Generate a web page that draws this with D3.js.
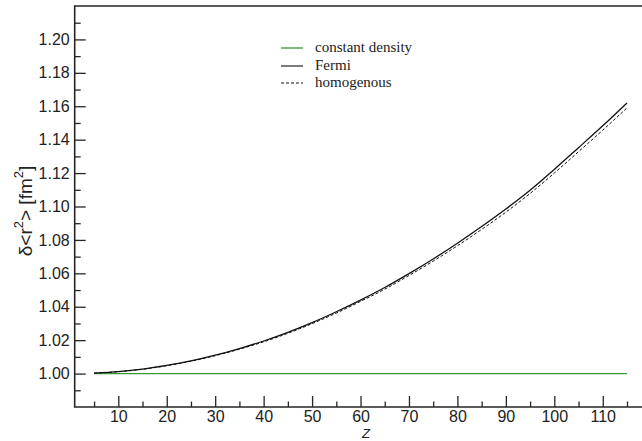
<!DOCTYPE html>
<html>
<head>
<meta charset="utf-8">
<script src="https://cdn.jsdelivr.net/npm/d3@7"></script>
<style>
  body { margin: 0; background: #fff; }
  svg { display: block; }
</style>
</head>
<body>
<div id="chart"></div>
<script>
// values
var zValues = [5, 10, 15, 20, 25, 30, 35, 40, 45, 50, 55, 60, 65, 70, 75, 80, 85, 90, 95, 100, 105, 110, 115];
var fermi = [1.0003, 1.0012, 1.0027, 1.0049, 1.0076, 1.0110, 1.0150, 1.0195, 1.0247, 1.0305, 1.0370, 1.0440,
  1.0515, 1.0598, 1.0686, 1.0780, 1.0880, 1.0985, 1.1097, 1.1222, 1.1352, 1.1483, 1.1620];
var homogenous = [1.0003, 1.0011, 1.0026, 1.0047, 1.0074, 1.0107, 1.0146, 1.0190, 1.0241, 1.0299, 1.0362, 1.0432,
  1.0505, 1.0587, 1.0673, 1.0765, 1.0863, 1.0966, 1.1078, 1.1200, 1.1328, 1.1457, 1.1590];
var constantDensity = [1.0, 1.0];
var constantZ = [5, 115];

var xMajorTicks = [10, 20, 30, 40, 50, 60, 70, 80, 90, 100, 110];
var xMinorTicks = [5, 15, 25, 35, 45, 55, 65, 75, 85, 95, 105, 115];
var yMajorTicks = [1.00, 1.02, 1.04, 1.06, 1.08, 1.10, 1.12, 1.14, 1.16, 1.18, 1.20];
var yMinorTicks = [0.99, 1.01, 1.03, 1.05, 1.07, 1.09, 1.11, 1.13, 1.15, 1.17, 1.19, 1.21];

var legendLabels = ["constant density", "Fermi", "homogenous"];

var svgWidth = 642;
var svgHeight = 441;

var svg = d3.select("#chart")
  .append("svg")
  .attr("width", svgWidth)
  .attr("height", svgHeight);

var x = d3.scaleLinear()
  .domain([1, 120])
  .range([74.7, 651.2]);

var y = d3.scaleLinear()
  .domain([0.98, 1.22])
  .range([407, 6]);

var axisColor = "#262626";

// ticks point into the plot
var bottomAxis = d3.axisBottom(x).tickValues(xMajorTicks).tickSizeInner(-11).tickSizeOuter(0)
  .tickPadding(4).tickFormat(d3.format("d"));
var bottomMinor = d3.axisBottom(x).tickValues(xMinorTicks).tickSizeInner(-5.5).tickSizeOuter(0).tickFormat("");
var leftAxis = d3.axisLeft(y).tickValues(yMajorTicks).tickSizeInner(-11).tickSizeOuter(0)
  .tickPadding(5).tickFormat(d3.format(".2f"));
var leftMinor = d3.axisLeft(y).tickValues(yMinorTicks).tickSizeInner(-6).tickSizeOuter(0).tickFormat("");

function styleAxis(g) {
  g.select(".domain").remove();
  g.selectAll("line").attr("stroke", axisColor).attr("stroke-width", 1.3);
  g.selectAll("text")
    .attr("fill", "#222")
    .attr("font-family", "'Liberation Sans', Arial, sans-serif")
    .attr("font-size", "16px");
}

svg.append("g").attr("transform", "translate(0," + 407 + ")").call(bottomAxis).call(styleAxis);
svg.append("g").attr("transform", "translate(0," + 407 + ")").call(bottomMinor).call(styleAxis);
svg.append("g").attr("transform", "translate(" + 74.7 + ",0)").call(leftAxis).call(styleAxis);
svg.append("g").attr("transform", "translate(" + 74.7 + ",0)").call(leftMinor).call(styleAxis);

// frame (right side runs past the window)
svg.append("path")
  .attr("d", "M" + x(120) + "," + y(1.22) + "H" + x(1) + "V" + y(0.98) + "H" + x(120))
  .attr("fill", "none")
  .attr("stroke", axisColor)
  .attr("stroke-width", 1.6);

var line = d3.line()
  .x(d => x(d[0]))
  .y(d => y(d[1]))
  .curve(d3.curveMonotoneX);

svg.append("path")
  .datum(d3.zip(constantZ, constantDensity))
  .attr("d", line)
  .attr("fill", "none")
  .attr("stroke", "#3a9a3a")
  .attr("stroke-width", 1.3);

svg.append("path")
  .datum(d3.zip(zValues, homogenous))
  .attr("d", line)
  .attr("fill", "none")
  .attr("stroke", "#111")
  .attr("stroke-width", 1)
  .attr("stroke-dasharray", "3,2");

svg.append("path")
  .datum(d3.zip(zValues, fermi))
  .attr("d", line)
  .attr("fill", "none")
  .attr("stroke", "#111")
  .attr("stroke-width", 1.3);

// legend
var legendStyles = [
  { color: "#3a9a3a", dash: null, width: 1.3 },
  { color: "#333", dash: null, width: 1.3 },
  { color: "#111", dash: "3,2", width: 1 }
];
var legendY = [48, 66, 83];

var legend = svg.append("g");
legendLabels.forEach(function(label, i) {
  legend.append("line")
    .attr("x1", 281).attr("x2", 303)
    .attr("y1", legendY[i]).attr("y2", legendY[i])
    .attr("stroke", legendStyles[i].color)
    .attr("stroke-width", legendStyles[i].width)
    .attr("stroke-dasharray", legendStyles[i].dash);
  legend.append("text")
    .attr("x", 315)
    .attr("y", legendY[i] + 4)
    .attr("font-family", "'Liberation Serif', 'Times New Roman', serif")
    .attr("font-size", "15px")
    .attr("fill", "#222")
    .text(label);
});

// axis titles
svg.append("text")
  .attr("x", 366)
  .attr("y", 438)
  .attr("text-anchor", "middle")
  .attr("font-family", "'Liberation Sans', Arial, sans-serif")
  .attr("font-style", "italic")
  .attr("font-size", "13px")
  .attr("fill", "#222")
  .text("Z");

var yTitle = svg.append("text")
  .attr("transform", "translate(32,211) rotate(-90)")
  .attr("text-anchor", "middle")
  .attr("font-family", "'Liberation Sans', Arial, sans-serif")
  .attr("font-size", "19px")
  .attr("fill", "#222");
yTitle.append("tspan").text("δ<r");
yTitle.append("tspan").attr("dy", -9).attr("font-size", "13px").text("2");
yTitle.append("tspan").attr("dy", 9).text("> [fm");
yTitle.append("tspan").attr("dy", -9).attr("font-size", "13px").text("2");
yTitle.append("tspan").attr("dy", 9).text("]");
</script>
</body>
</html>
